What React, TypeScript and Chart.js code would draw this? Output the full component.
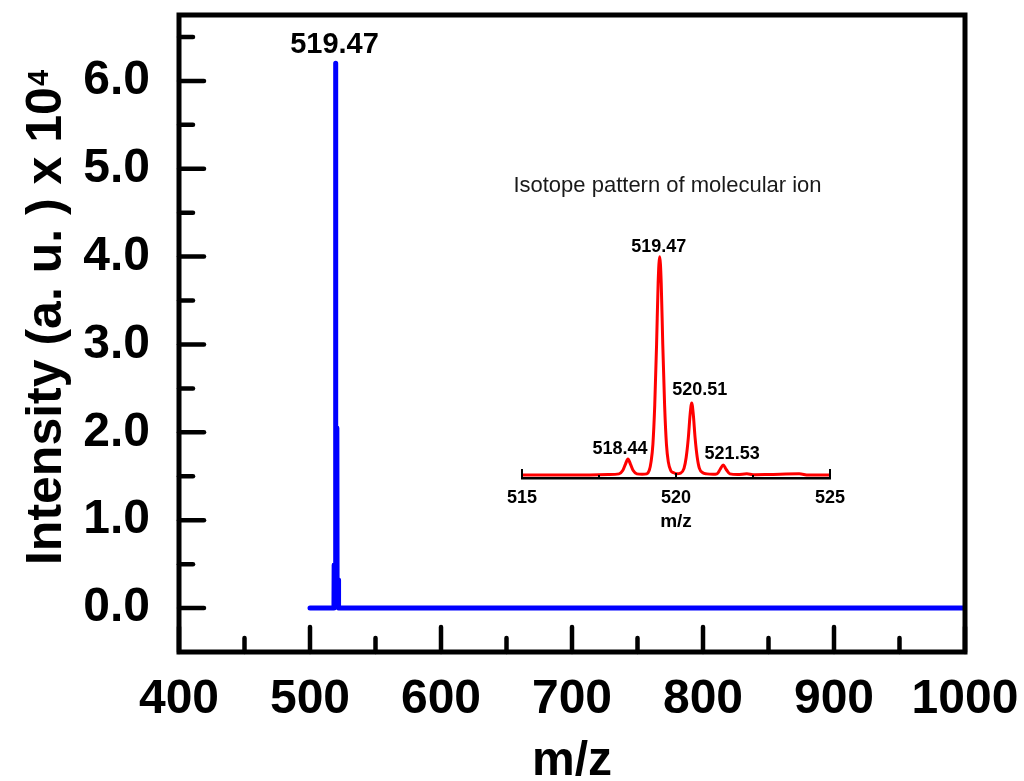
import React, { useEffect, useRef } from "react";
import { Chart, registerables } from "chart.js";

Chart.register(...registerables);

const FONT = "'Liberation Sans', Arial, Helvetica, sans-serif";

// ---- main spectrum (intensity in units of 10^4) ----
const mainMz = [500, 517.8, 518.3, 518.44, 518.6, 519.2, 519.47, 519.75, 520.3, 520.51, 520.7, 521.3, 521.53, 521.8, 1000];
const mainIntensity = [0, 0, 0.05, 0.49, 0.05, 0.1, 6.2, 0.2, 0.1, 2.05, 0.1, 0.03, 0.32, 0, 0];
const mainXTicks = [400, 500, 600, 700, 800, 900, 1000];
const mainXMinor = [450, 550, 650, 750, 850, 950];
const mainYTicks = [0, 1, 2, 3, 4, 5, 6];
const mainYMinor = [0.5, 1.5, 2.5, 3.5, 4.5, 5.5, 6.5];
const mainPeakLabel = { mz: 519.47, value: 6.2, text: "519.47" };

// ---- inset: isotope pattern (relative intensity, %) ----
const isoMz = [
  515, 517, 517.8, 518.15, 518.27, 518.36, 518.44, 518.52, 518.61, 518.73, 518.9,
  519.05, 519.13, 519.19, 519.25, 519.31, 519.37, 519.42, 519.47, 519.52, 519.57, 519.63, 519.69, 519.75, 519.83, 519.93, 520.02,
  520.15, 520.26, 520.33, 520.4, 520.46, 520.51, 520.56, 520.62, 520.69, 520.76, 520.87, 521.0, 521.2,
  521.33, 521.43, 521.53, 521.63, 521.75, 522.0, 522.3, 522.5, 523.0, 524.0, 524.3, 525,
];
const isoIntensity = [
  0, 0, 0.2, 0.5, 2, 5, 7.3, 5, 2, 0.5, 0.3,
  0.5, 2, 6, 14, 32, 60, 88, 100, 88, 60, 32, 14, 6, 2, 1, 0.5,
  0.8, 3, 8, 17, 28, 33, 28, 17, 8, 3, 1, 0.5, 0.3,
  0.5, 2.5, 4.6, 2.5, 0.5, 0.2, 0.5, 0.1, 0.2, 0.5, 0, 0,
];
const isoXTicks = [515, 520, 525];
const isoXMinor = [517.5, 522.5];
const isoLabelMz = [519.47, 520.51, 518.44, 521.53];
const isoLabelValue = [100, 33, 7.3, 4.6];
const isoLabelText = ["519.47", "520.51", "518.44", "521.53"];
const isoLabelOffset = [[-1, -5], [8, -8], [-8, -5], [9, -6]];

const zeroPad = (scale: any) => {
  scale.paddingTop = 0;
  scale.paddingBottom = 0;
  scale.paddingLeft = 0;
  scale.paddingRight = 0;
};

const mainDecor = {
  id: "mainDecor",
  afterDraw(chart: any) {
    const { ctx, chartArea: a } = chart;
    const x = chart.scales.x;
    const y = chart.scales.y;
    ctx.save();
    ctx.strokeStyle = "#000";
    ctx.lineCap = "round";
    ctx.lineWidth = 4.5;
    const seg = (x1: number, y1: number, x2: number, y2: number) => {
      ctx.beginPath();
      ctx.moveTo(x1, y1);
      ctx.lineTo(x2, y2);
      ctx.stroke();
    };
    mainXTicks.forEach((v) => { const p = x.getPixelForValue(v); seg(p, a.bottom, p, a.bottom - 25); });
    mainXMinor.forEach((v) => { const p = x.getPixelForValue(v); seg(p, a.bottom, p, a.bottom - 14); });
    mainYTicks.forEach((v) => { const p = y.getPixelForValue(v); seg(a.left, p, a.left + 25, p); });
    mainYMinor.forEach((v) => { const p = y.getPixelForValue(v); seg(a.left, p, a.left + 14, p); });
    // frame
    ctx.lineCap = "butt";
    ctx.lineJoin = "miter";
    ctx.lineWidth = 5;
    ctx.strokeRect(a.left, a.top, a.right - a.left, a.bottom - a.top);

    ctx.fillStyle = "#000";
    // peak label
    ctx.font = `bold 29px ${FONT}`;
    ctx.textAlign = "center";
    ctx.textBaseline = "alphabetic";
    ctx.fillText(mainPeakLabel.text, x.getPixelForValue(mainPeakLabel.mz) - 1, y.getPixelForValue(mainPeakLabel.value) - 10);

    // x title
    ctx.font = `bold 48px ${FONT}`;
    ctx.fillText("m/z", (a.left + a.right) / 2, 775);

    // y title with superscript
    ctx.save();
    ctx.translate(61, 318);
    ctx.rotate(-Math.PI / 2);
    const t1 = "Intensity (a. u. ) x 10";
    ctx.font = `bold 50px ${FONT}`;
    const w1 = ctx.measureText(t1).width;
    ctx.font = `bold 29px ${FONT}`;
    const w2 = ctx.measureText("4").width;
    const start = -(w1 + w2) / 2;
    ctx.textAlign = "left";
    ctx.font = `bold 50px ${FONT}`;
    ctx.fillText(t1, start, 0);
    ctx.font = `bold 29px ${FONT}`;
    ctx.fillText("4", start + w1 + 1, -13);
    ctx.restore();

    ctx.restore();
  },
};

const insetDecor = {
  id: "insetDecor",
  afterDraw(chart: any) {
    const { ctx, chartArea: a } = chart;
    const x = chart.scales.x;
    const y = chart.scales.y;
    ctx.save();
    ctx.strokeStyle = "#000";
    ctx.lineWidth = 2;
    const seg = (x1: number, y1: number, x2: number, y2: number) => {
      ctx.beginPath();
      ctx.moveTo(x1, y1);
      ctx.lineTo(x2, y2);
      ctx.stroke();
    };
    isoXTicks.forEach((v, i) => {
      const p = x.getPixelForValue(v);
      const len = i === 1 ? 5 : 9;
      seg(p, a.bottom, p, a.bottom - len);
    });
    isoXMinor.forEach((v) => { const p = x.getPixelForValue(v); seg(p, a.bottom, p, a.bottom - 3); });

    ctx.fillStyle = "#000";
    ctx.textAlign = "center";
    ctx.textBaseline = "alphabetic";
    ctx.font = `bold 18px ${FONT}`;
    isoLabelText.forEach((t, i) => {
      const px = x.getPixelForValue(isoLabelMz[i]);
      const py = y.getPixelForValue(isoLabelValue[i]);
      ctx.fillText(t, px + isoLabelOffset[i][0], py + isoLabelOffset[i][1]);
    });
    ctx.font = `bold 19px ${FONT}`;
    ctx.fillText("m/z", (a.left + a.right) / 2, 367);
    ctx.font = `22px ${FONT}`;
    ctx.fillStyle = "#1a1a1a";
    ctx.fillText("Isotope pattern of molecular ion", 187.5, 32);
    ctx.restore();
  },
};

export default function App() {
  const mainRef = useRef<HTMLCanvasElement | null>(null);
  const insetRef = useRef<HTMLCanvasElement | null>(null);

  useEffect(() => {
    const main = new Chart(mainRef.current as HTMLCanvasElement, {
      type: "line",
      data: {
        datasets: [
          {
            data: mainMz.map((m, i) => ({ x: m, y: mainIntensity[i] })),
            borderColor: "#0000FF",
            borderWidth: 5,
            pointRadius: 0,
            tension: 0,
            borderJoinStyle: "round",
            borderCapStyle: "round",
            fill: false,
          },
        ],
      },
      options: {
        responsive: false,
        animation: false,
        devicePixelRatio: 1,
        layout: { padding: { top: 15, right: 59, left: 0, bottom: 0 } },
        plugins: { legend: { display: false }, tooltip: { enabled: false }, title: { display: false } },
        scales: {
          x: {
            type: "linear",
            min: 400,
            max: 1000,
            afterBuildTicks: (s: any) => { s.ticks = mainXTicks.map((v) => ({ value: v })); },
            afterFit: (s: any) => { s.height = 129; zeroPad(s); },
            grid: { display: false, drawTicks: false },
            border: { display: false },
            ticks: {
              autoSkip: false,
              maxRotation: 0,
              padding: 19,
              color: "#000",
              font: { family: FONT, size: 48, weight: "bold" },
              callback: (v: any) => String(v),
            },
          },
          y: {
            type: "linear",
            min: -0.5,
            max: 6.75,
            afterBuildTicks: (s: any) => { s.ticks = mainYTicks.map((v) => ({ value: v })); },
            afterFit: (s: any) => { s.width = 179; zeroPad(s); },
            grid: { display: false, drawTicks: false },
            border: { display: false },
            ticks: {
              autoSkip: false,
              padding: 29,
              color: "#000",
              font: { family: FONT, size: 48, weight: "bold" },
              callback: (v: any) => Number(v).toFixed(1),
            },
          },
        },
      },
      plugins: [mainDecor],
    } as any);

    const inset = new Chart(insetRef.current as HTMLCanvasElement, {
      type: "line",
      data: {
        datasets: [
          {
            data: isoMz.map((m, i) => ({ x: m, y: isoIntensity[i] })),
            borderColor: "#FF0000",
            borderWidth: 3,
            pointRadius: 0,
            cubicInterpolationMode: "monotone",
            fill: false,
          },
        ],
      },
      options: {
        responsive: false,
        animation: false,
        devicePixelRatio: 1,
        layout: { padding: { top: 75, right: 30, left: 42, bottom: 0 } },
        plugins: { legend: { display: false }, tooltip: { enabled: false }, title: { display: false } },
        scales: {
          x: {
            type: "linear",
            min: 515,
            max: 525,
            afterBuildTicks: (s: any) => { s.ticks = isoXTicks.map((v) => ({ value: v })); },
            afterFit: (s: any) => { s.height = 62; zeroPad(s); },
            grid: { display: false, drawTicks: false },
            border: { display: true, color: "#000", width: 2.5 },
            ticks: {
              autoSkip: false,
              maxRotation: 0,
              padding: 9,
              color: "#000",
              font: { family: FONT, size: 18, weight: "bold" },
              callback: (v: any) => String(v),
            },
          },
          y: { display: false, min: -1.4, max: 110 },
        },
      },
      plugins: [insetDecor],
    } as any);

    return () => {
      main.destroy();
      inset.destroy();
    };
  }, []);

  return (
    <div style={{ position: "fixed", left: 0, top: 0, width: 1024, height: 781, background: "#fff" }}>
      <canvas ref={mainRef} width={1024} height={781} style={{ position: "absolute", left: 0, top: 0, display: "block" }} />
      <canvas ref={insetRef} width={380} height={380} style={{ position: "absolute", left: 480, top: 160, display: "block" }} />
    </div>
  );
}
